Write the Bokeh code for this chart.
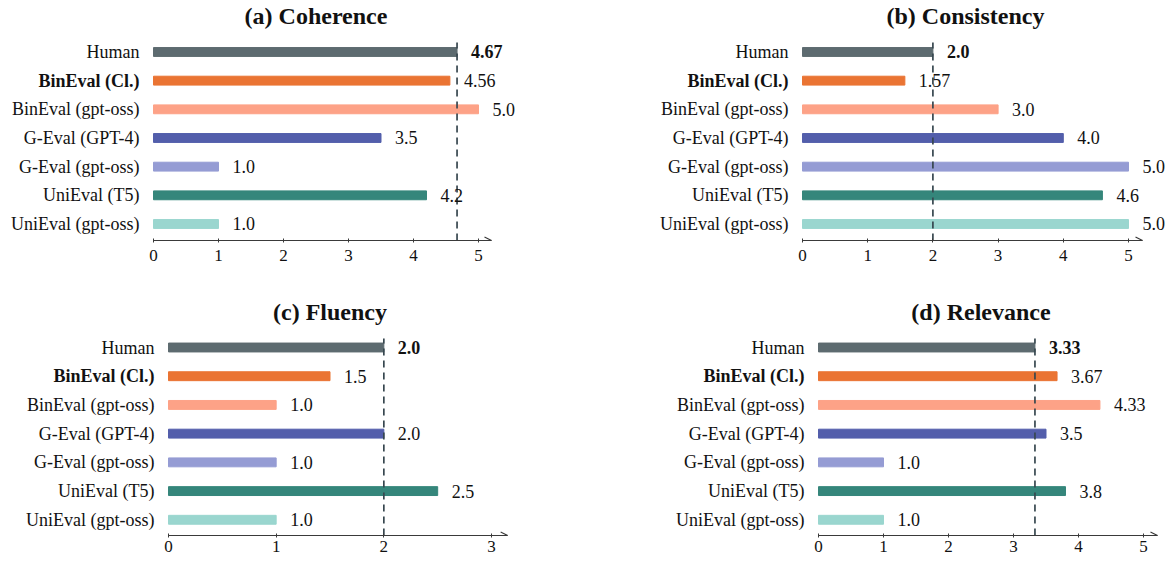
from bokeh.plotting import figure
from bokeh.models import ColumnDataSource, Range1d, FixedTicker, Arrow, OpenHead
from bokeh.layouts import column, row
from bokeh.core.properties import value, field
from bokeh.embed import file_html
from bokeh.resources import INLINE

# ---------------- data ----------------
models = ["Human", "BinEval (Cl.)", "BinEval (gpt-oss)", "G-Eval (GPT-4)",
          "G-Eval (gpt-oss)", "UniEval (T5)", "UniEval (gpt-oss)"]
model_styles = ["normal", "bold", "normal", "normal", "normal", "normal", "normal"]
value_styles = ["bold", "normal", "normal", "normal", "normal", "normal", "normal"]
colors = ["#5d6b70", "#ea7433", "#fda287", "#535eab", "#959cd4", "#35867b", "#9ad6cf"]

coherence = [4.67, 4.56, 5.0, 3.5, 1.0, 4.2, 1.0]
coherence_labels = ["4.67", "4.56", "5.0", "3.5", "1.0", "4.2", "1.0"]
consistency = [2.0, 1.57, 3.0, 4.0, 5.0, 4.6, 5.0]
consistency_labels = ["2.0", "1.57", "3.0", "4.0", "5.0", "4.6", "5.0"]
fluency = [2.0, 1.5, 1.0, 2.0, 1.0, 2.5, 1.0]
fluency_labels = ["2.0", "1.5", "1.0", "2.0", "1.0", "2.5", "1.0"]
relevance = [3.33, 3.67, 4.33, 3.5, 1.0, 3.8, 1.0]
relevance_labels = ["3.33", "3.67", "4.33", "3.5", "1.0", "3.8", "1.0"]

ticks_5 = [0, 1, 2, 3, 4, 5]
ticks_3 = [0, 1, 2, 3]

FONT = "Liberation Serif"
AXIS_COLOR = "#3a3a3a"
TEXT_COLOR = "#111111"
DASH_COLOR = "#37474f"


def make_panel(title, vals, labels, ticks, width, height, border_bottom, standoff,
               x_start, x_end, arrow_end, y_start, y_end, title_y, dash_top):
    n = len(models)
    ypos = [n - 1 - i for i in range(n)]
    src = ColumnDataSource(dict(y=ypos, value=vals, label=labels, color=colors,
                                vstyle=value_styles, mstyle=model_styles,
                                name=models, zero=[0] * n))

    p = figure(width=width, height=height, title=None, toolbar_location=None,
               output_backend="svg", x_range=Range1d(x_start, x_end),
               y_range=Range1d(y_start, y_end),
               min_border_left=0, min_border_right=0,
               min_border_top=0, min_border_bottom=border_bottom)
    p.outline_line_color = None
    p.xgrid.visible = False
    p.ygrid.visible = False
    p.yaxis.visible = False
    p.background_fill_color = "white"
    p.border_fill_color = "white"

    p.hbar(y="y", left=0, right="value", height=0.31, color="color", source=src)

    # reference line at the human score
    human = vals[models.index("Human")]
    p.segment(x0=[human], y0=[y_start], x1=[human], y1=[dash_top],
              line_color=DASH_COLOR, line_width=1.7, line_dash="7 5")

    # value labels
    p.text(x="value", y="y", text="label", source=src, x_offset=14,
           text_baseline="middle", text_align="left",
           text_font=value(FONT), text_font_size="18px",
           text_font_style=field("vstyle"), text_color=TEXT_COLOR)

    # category labels
    p.text(x="zero", y="y", text="name", source=src, x_offset=-14,
           text_baseline="middle", text_align="right",
           text_font=value(FONT), text_font_size="18px",
           text_font_style=field("mstyle"), text_color=TEXT_COLOR)

    # panel title
    p.text(x=[ticks[-1] / 2], y=[title_y], text=[title], text_align="center",
           text_baseline="middle", text_font=value(FONT),
           text_font_size="24px", text_font_style="bold", text_color=TEXT_COLOR)

    # x axis
    xa = p.xaxis[0]
    xa.ticker = FixedTicker(ticks=ticks)
    xa.bounds = (0, arrow_end)
    xa.axis_line_color = AXIS_COLOR
    xa.axis_line_width = 1.2
    xa.major_tick_line_color = AXIS_COLOR
    xa.major_tick_in = 2
    xa.major_tick_out = 2
    xa.minor_tick_line_color = None
    xa.major_label_standoff = standoff
    xa.major_label_text_font = FONT
    xa.major_label_text_font_size = "17px"
    xa.major_label_text_line_height = 1.0
    xa.major_label_text_color = TEXT_COLOR

    p.add_layout(Arrow(end=OpenHead(size=7, line_color=AXIS_COLOR, line_width=1.2),
                       x_start=arrow_end - 0.05, y_start=y_start,
                       x_end=arrow_end, y_end=y_start,
                       line_color=AXIS_COLOR, line_width=1.2))
    return p


pa = make_panel("(a) Coherence", coherence, coherence_labels, ticks_5,
                590, 290, 50, 7, -153 / 65.0, 437 / 65.0, 5.2,
                -0.576, 7.796, 7.238, 6.33)
pb = make_panel("(b) Consistency", consistency, consistency_labels, ticks_5,
                576, 290, 50, 7, -212 / 65.2, 364 / 65.2, 5.215,
                -0.576, 7.796, 7.238, 6.33)
pc = make_panel("(c) Fluency", fluency, fluency_labels, ticks_3,
                590, 273, 28, 3, -168 / 107.67, 422 / 107.67, 3.15,
                -0.547, 7.985, 7.229, 6.31)
pd = make_panel("(d) Relevance", relevance, relevance_labels, ticks_5,
                576, 273, 28, 3, -228 / 65.0, 348 / 65.0, 5.215,
                -0.547, 7.985, 7.229, 6.31)

layout = column(row(pa, pb), row(pc, pd))

open("out.html", "w").write(file_html(layout, INLINE))
